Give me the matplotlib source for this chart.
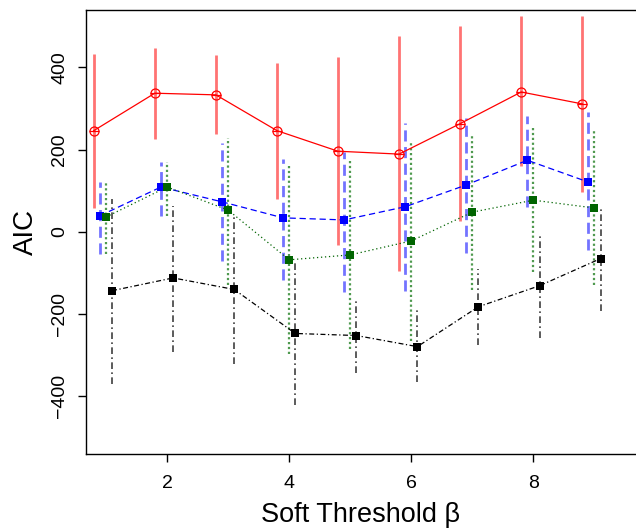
import numpy as np
import matplotlib
matplotlib.use('Agg')
import matplotlib.pyplot as plt

plt.rcParams['font.family'] = ['Liberation Sans', 'DejaVu Sans']

# soft threshold values
beta = np.arange(1, 10)

# AIC means and interval bounds for the four series
red_mean = [246, 337, 333, 246, 196, 189, 263, 340, 311]
red_hi = [433, 448, 429, 411, 425, 475, 501, 524, 524]
red_lo = [58, 225, 237, 81, -32, -95, 26, 159, 98]

blue_mean = [39, 109, 73, 34, 29, 61, 114, 174, 121]
blue_hi = [122, 169, 217, 178, 195, 265, 276, 282, 291]
blue_lo = [-55, 39, -71, -116, -146, -144, -51, 60, -45]

green_mean = [36, 109, 53, -68, -56, -22, 48, 77, 58]
green_hi = [123, 171, 228, 161, 173, 217, 233, 256, 248]
green_lo = [-55, 39, -128, -297, -285, -265, -141, -97, -129]

black_mean = [-143, -112, -140, -247, -252, -279, -182, -131, -65]
black_hi = [81, 64, 36, -75, -161, -191, -91, -9, 56]
black_lo = [-371, -293, -321, -422, -343, -366, -275, -257, -192]

fig = plt.figure(figsize=(6.36, 5.29), dpi=100)
ax = fig.add_axes([85.7 / 636, (529 - 454) / 529, 1 - 85.7 / 636, (454 - 9.7) / 529])

series = [
    # mean, hi, lo, offset, line colour, bar colour, line dashes, bar dashes, bar width, marker
    (red_mean, red_hi, red_lo, -0.2, '#ff0000', '#ff7373', None, None, 2.0, 'o'),
    (blue_mean, blue_hi, blue_lo, -0.1, '#0000ff', '#7373ff', (5, 3), (4, 2), 2.0, 's'),
    (green_mean, green_hi, green_lo, 0.0, '#006400', '#4f9a4f', (1, 2.2), (1, 1.2), 1.6, 's'),
    (black_mean, black_hi, black_lo, 0.1, '#000000', '#404040', (4, 2, 1, 2), (4, 2, 1, 2), 1.2, 's'),
]

for mean, hi, lo, off, col, bcol, dash, bdash, bw, mk in series:
    xs = beta + off
    bars = ax.vlines(xs, lo, hi, colors=bcol, linewidth=bw, zorder=2)
    if bdash is not None:
        bars.set_linestyle((0, bdash))
    line, = ax.plot(xs, mean, color=col, linewidth=0.9, zorder=3)
    if dash is not None:
        line.set_dashes(dash)
    if mk == 'o':
        ax.plot(xs, mean, 'o', markersize=6.5, markerfacecolor='none',
                markeredgecolor=col, markeredgewidth=0.9, zorder=4)
        # R style circle with a cross bar through it
        ax.plot(xs, mean, '_', markersize=6.5, color=col, markeredgewidth=0.9, zorder=4)
    else:
        ax.plot(xs, mean, 's', markersize=5.8, color=col, markeredgewidth=0, zorder=4)

ax.set_xlim(0.668, 9.68)
ax.set_ylim(-540, 540)
ax.set_xticks([2, 4, 6, 8])
ax.set_yticks([-400, -200, 0, 200, 400])
ax.spines['right'].set_visible(False)
for s in ['left', 'top', 'bottom']:
    ax.spines[s].set_linewidth(1.0)

ax.tick_params(axis='both', direction='out', length=6, width=1, labelsize=14)
ax.tick_params(axis='x', pad=9)
plt.setp(ax.get_yticklabels(), rotation=90, va='center')
ax.tick_params(axis='y', pad=6.5)

ax.set_xlabel('Soft Threshold \u03b2', fontsize=19.5, labelpad=7)
ax.set_ylabel('AIC', fontsize=20, labelpad=9)

fig.savefig('out.png', dpi=100)
